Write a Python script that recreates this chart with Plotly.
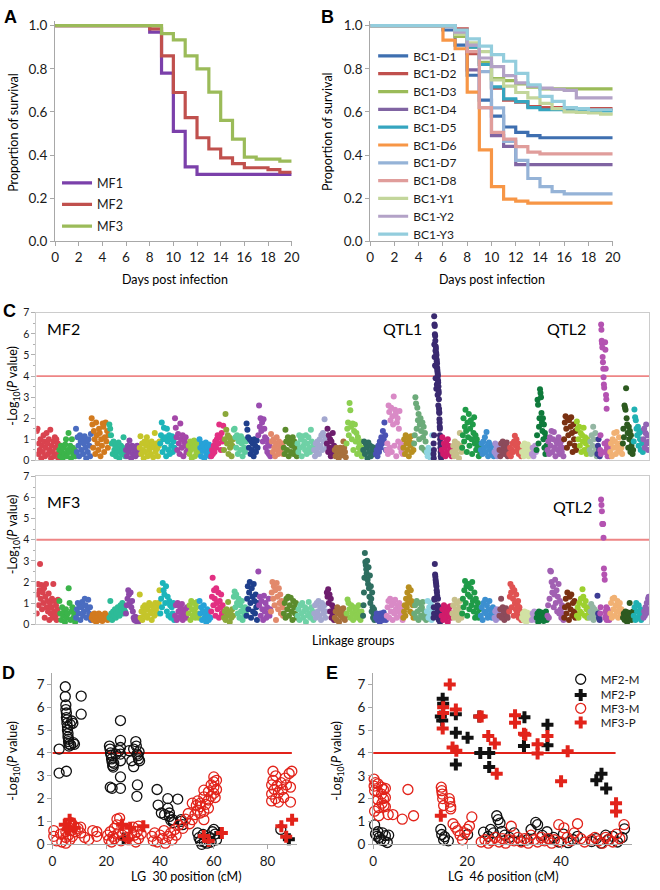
import plotly.graph_objects as go

W, H = 660, 890
FONT = "Lato, 'Open Sans', sans-serif"
TXT = "#1a1a1a"
AX = "#a8a8a8"

# ---------------- Panel A: survival of three mapping families ----------------
days = list(range(0, 21))
mf1_survival = [1, 1, 1, 1, 1, 1, 1, 1, 0.97, 0.78, 0.51, 0.345, 0.31, 0.31, 0.31, 0.31, 0.31, 0.31, 0.31, 0.31, 0.31]
mf2_survival = [1, 1, 1, 1, 1, 1, 1, 1, 0.985, 0.86, 0.69, 0.573, 0.48, 0.428, 0.387, 0.36, 0.341, 0.341, 0.332, 0.32, 0.32]
mf3_survival = [1, 1, 1, 1, 1, 1, 1, 1, 1, 0.963, 0.934, 0.86, 0.80, 0.692, 0.561, 0.474, 0.39, 0.381, 0.381, 0.372, 0.372]
families_a = ["MF1", "MF2", "MF3"]

# ---------------- Panel B: survival of backcross families ----------------
bc1_d1 = [1, 1, 1, 1, 1, 1, 0.98, 0.91, 0.77, 0.655, 0.58, 0.53, 0.505, 0.49, 0.48, 0.48, 0.48, 0.48, 0.48, 0.48, 0.48]
bc1_d2 = [1, 1, 1, 1, 1, 1, 1, 0.985, 0.87, 0.82, 0.71, 0.655, 0.645, 0.625, 0.62, 0.62, 0.615, 0.615, 0.615, 0.615, 0.615]
bc1_d3 = [1, 1, 1, 1, 1, 1, 1, 0.95, 0.90, 0.83, 0.755, 0.745, 0.73, 0.715, 0.707, 0.707, 0.707, 0.707, 0.707, 0.707, 0.707]
bc1_d4 = [1, 1, 1, 1, 1, 1, 1, 0.96, 0.795, 0.62, 0.49, 0.44, 0.355, 0.355, 0.355, 0.355, 0.355, 0.355, 0.355, 0.355, 0.355]
bc1_d5 = [1, 1, 1, 1, 1, 1, 1, 0.97, 0.90, 0.82, 0.716, 0.66, 0.648, 0.62, 0.61, 0.61, 0.605, 0.605, 0.605, 0.605, 0.605]
bc1_d6 = [1, 1, 1, 1, 1, 1, 0.933, 0.893, 0.692, 0.424, 0.253, 0.195, 0.186, 0.177, 0.177, 0.177, 0.177, 0.177, 0.177, 0.177, 0.177]
bc1_d7 = [1, 1, 1, 1, 1, 1, 1, 0.97, 0.91, 0.787, 0.619, 0.463, 0.375, 0.291, 0.253, 0.23, 0.22, 0.22, 0.22, 0.22, 0.22]
bc1_d8 = [1, 1, 1, 1, 1, 1, 1, 0.97, 0.88, 0.62, 0.505, 0.474, 0.439, 0.413, 0.405, 0.405, 0.405, 0.405, 0.405, 0.405, 0.405]
bc1_y1 = [1, 1, 1, 1, 1, 1, 1, 0.96, 0.92, 0.88, 0.748, 0.72, 0.69, 0.665, 0.64, 0.615, 0.60, 0.598, 0.595, 0.59, 0.585]
bc1_y2 = [1, 1, 1, 1, 1, 1, 1, 0.97, 0.91, 0.85, 0.81, 0.768, 0.735, 0.72, 0.71, 0.705, 0.70, 0.665, 0.665, 0.665, 0.665]
bc1_y3 = [1, 1, 1, 1, 1, 1, 1, 0.98, 0.939, 0.905, 0.866, 0.835, 0.779, 0.726, 0.672, 0.649, 0.62, 0.615, 0.61, 0.61, 0.61]
families_b = ["BC1-D1", "BC1-D2", "BC1-D3", "BC1-D4", "BC1-D5", "BC1-D6", "BC1-D7", "BC1-D8", "BC1-Y1", "BC1-Y2", "BC1-Y3"]

# ---------------- Panel C: genome scans (linkage group lengths, -log10 P per marker) ----------------
lg_lengths = [23, 17, 16, 18, 17, 14, 21, 15, 14, 11, 12, 13, 10, 13, 12, 13, 13, 14, 17, 13,
              8, 12, 17, 13, 11, 17, 11, 13, 7, 8, 11, 10, 19, 14, 5, 10, 13, 10, 5, 11,
              17, 13, 13, 8, 3, 10, 13, 11, 10, 6]

mf2_lg01 = [1.4, 1.5, 0.3, 0.8, 0.5, 1.0, 0.1, 0.7, 0.4, 1.2, 0.9, 0.2, 0.6, 1.3, 0.8, 0.3, 1.0, 0.5, 1.45, 0.1, 0.7, 0.4, 0.9, 0.2, 1.1, 0.6, 1.0, 0.3, 0.8, 0.05]
mf2_lg02 = [0.5, 0.2, 0.7, 0.4, 0.1, 0.6, 0.3, 0.75, 1.0, 0.2, 0.5, 1.3, 0.4, 0.7, 0.1, 1.0, 0.6, 0.3, 0.5, 0.2]
mf2_lg03 = [1.5, 0.4, 1.1, 0.7, 0.2, 1.2, 0.9, 0.5, 1.0, 0.3, 0.8, 1.15, 0.6, 0.1, 0.9, 0.4, 1.0, 0.7, 0.2, 1.25]
mf2_lg04 = [2.0, 1.7, 0.6, 1.4, 1.0, 0.3, 1.8, 1.2, 0.8, 0.5, 1.5, 1.3, 0.2, 1.0, 0.7, 1.75, 1.6, 0.4, 1.1, 1.8, 0.9, 1.4, 0.6, 1.2]
mf2_lg05 = [1.7, 1.5, 1.2, 0.8, 0.3, 0.9, 0.5, 0.7, 0.2, 0.6, 0.4, 0.85, 0.1, 0.5, 0.7, 0.3, 0.6, 1.1, 0.4, 0.2]
mf2_lg06 = [0.5, 0.2, 0.7, 0.4, 0.95, 0.6, 0.1, 0.7, 0.3, 0.5, 0.65, 0.2, 0.45, 0.7, 0.3, 0.55]
mf2_lg07 = [0.6, 1.15, 0.3, 0.8, 0.5, 0.1, 0.9, 0.4, 0.7, 1.1, 0.2, 0.85, 0.5, 0.6, 0.3, 0.9, 0.75, 0.15, 0.6, 1.3, 0.4, 0.8, 0.55, 0.2, 0.7, 0.9]
mf2_lg08 = [0.8, 1.2, 1.8, 0.4, 1.0, 1.55, 0.6, 1.1, 0.2, 1.5, 0.9, 0.5, 1.2, 0.3, 1.0, 0.7, 1.15, 0.4, 0.9, 0.6]
mf2_lg09 = [2.0, 1.55, 1.1, 0.5, 1.25, 0.8, 0.3, 1.75, 1.0, 0.6, 1.2, 0.2, 0.9, 0.7, 1.1, 0.4, 0.8, 0.5]
mf2_lg10 = [0.7, 0.3, 0.9, 0.5, 0.1, 0.8, 0.6, 0.95, 0.2, 0.7, 0.4, 0.85, 0.5, 0.3]
mf2_lg11 = [1.0, 0.6, 0.2, 0.8, 0.45, 0.7, 0.1, 0.55, 0.85, 0.3, 0.65, 0.4, 0.75, 0.2, 0.5]
mf2_lg12 = [0.2, 0.5, 0.3, 0.7, 0.4, 0.9, 0.6, 1.0, 1.2, 0.8, 1.7, 1.1, 0.5, 1.3, 0.9, 1.65]
mf2_lg13 = [0.5, 1.0, 2.2, 1.45, 0.8, 1.2, 0.3, 1.1, 0.6, 0.9, 0.2, 0.7, 1.0]
mf2_lg14 = [1.45, 1.5, 1.1, 0.6, 1.2, 0.3, 0.9, 1.0, 0.5, 1.15, 0.8, 0.2, 1.0, 0.6, 0.4, 0.9]
mf2_lg15 = [1.75, 1.45, 1.1, 0.6, 1.0, 0.3, 0.9, 0.5, 0.8, 0.2, 1.0, 0.7, 0.4, 0.95, 0.6]
mf2_lg16 = [1.2, 2.6, 1.6, 2.0, 1.4, 1.8, 0.9, 1.95, 1.5, 1.1, 0.6, 1.0, 0.4, 0.8, 0.3, 0.7, 0.2]
mf2_lg17 = [1.25, 0.9, 0.4, 1.0, 0.6, 0.2, 0.8, 1.1, 0.5, 0.3, 0.9, 0.7, 0.4, 0.6, 0.8, 0.3]
mf2_lg18 = [0.6, 0.3, 1.45, 0.9, 0.5, 1.1, 0.2, 0.8, 1.0, 0.4, 0.7, 1.1, 0.3, 0.9, 0.6, 0.5, 0.2]
mf2_lg19 = [0.8, 0.4, 1.2, 0.6, 1.0, 0.2, 1.15, 0.7, 0.9, 0.5, 1.2, 0.3, 0.8, 1.1, 0.6, 0.4, 1.45, 0.9, 0.5, 0.7]
mf2_lg20 = [0.5, 0.2, 0.8, 0.4, 0.9, 0.6, 0.3, 1.0, 0.7, 1.2, 0.5, 1.3, 0.9, 1.95, 1.1, 0.6]
mf2_lg21 = [0.8, 1.5, 0.4, 1.2, 0.6, 1.0, 0.2, 0.9, 0.5, 1.3, 0.3, 0.7]
mf2_lg22 = [0.5, 0.2, 0.6, 0.35, 0.55, 0.1, 0.45, 0.6, 0.3, 0.5, 0.25, 0.9, 0.6, 0.4, 0.15]
mf2_lg23 = [0.8, 1.5, 1.8, 1.2, 2.72, 2.38, 1.6, 1.0, 1.75, 0.5, 1.4, 1.7, 0.9, 1.3, 0.3, 1.1, 0.6, 0.8, 0.4, 0.9, 0.2, 0.6]
mf2_lg24 = [0.5, 0.9, 0.3, 0.8, 0.6, 0.1, 0.85, 0.4, 0.7, 0.2, 0.65, 0.5, 0.3, 0.6, 0.4]
mf2_lg25 = [0.3, 0.5, 0.2, 0.7, 0.4, 0.9, 0.6, 1.1, 0.8, 1.4, 1.0, 1.8, 1.2, 0.5]
mf2_lg26 = [0.5, 0.8, 0.3, 2.6, 2.3, 0.6, 1.9, 2.5, 0.4, 2.1, 1.7, 3.03, 0.7, 2.4, 2.2, 0.2, 1.8, 2.0, 0.9, 1.5, 2.35, 0.6, 0.8, 0.4, 0.7, 0.3]
mf2_lg27 = [0.6, 1.0, 0.3, 1.2, 0.8, 0.5, 1.1, 0.2, 0.9, 0.7, 1.15, 0.4, 0.8, 0.5]
mf2_lg28 = [0.8, 1.2, 3.0, 2.7, 1.5, 2.5, 1.9, 2.2, 1.0, 1.7, 2.0, 1.4, 0.6, 1.8, 1.1, 1.6, 0.5, 1.3, 0.9, 0.4]
mf2_lg29 = [0.4, 0.2, 0.6, 0.3, 0.5, 0.1, 0.45, 1.2, 0.3]
mf2_lg30 = [0.3, 0.8, 0.1, 0.5, 1.2, 6.84, 5.5, 6.45, 4.9, 6.37, 5.98, 4.5, 5.9, 5.67, 5.2, 3.9, 5.4, 5.3, 4.45, 5.1,
            3.4, 5.0, 4.8, 4.7, 3.6, 4.6, 4.4, 4.3, 4.2, 3.1, 4.1, 4.0, 3.8, 3.7, 2.6, 3.5, 3.3, 3.2, 2.9, 2.45,
            2.3, 2.25, 1.95, 1.8, 1.6, 1.5, 1.2, 1.0, 0.8, 0.6, 0.4, 0.2, 0.7, 0.3, 0.1]
mf2_lg31 = [0.5, 1.1, 0.3, 0.8, 0.6, 0.2, 0.9, 0.4, 1.0, 0.7, 0.3, 0.6, 0.5, 0.2]
mf2_lg32 = [0.4, 0.7, 0.2, 0.9, 0.5, 0.3, 0.8, 0.6, 0.1, 1.3, 0.7, 0.4]
mf2_lg33 = [0.6, 1.2, 2.0, 0.9, 1.6, 2.4, 1.4, 0.4, 1.8, 1.1, 2.2, 0.7, 1.5, 1.9, 1.0, 0.3, 1.7, 1.3, 2.05, 0.8, 1.2, 0.5, 1.0, 0.6, 0.8, 0.2, 0.7, 0.4]
mf2_lg34 = [0.5, 0.8, 0.3, 0.9, 0.6, 1.1, 0.4, 1.35, 0.7, 0.2, 0.85, 0.5, 0.6, 0.3, 0.7, 0.4, 0.2]
mf2_lg35 = [0.4, 0.8, 0.3, 0.6, 0.2, 0.7, 0.5]
mf2_lg36 = [0.5, 0.2, 0.8, 0.4, 0.9, 0.6, 0.3, 0.7, 0.5, 0.85, 0.2, 0.6]
mf2_lg37 = [0.3, 0.6, 0.2, 0.5, 0.8, 0.4, 0.9, 1.17, 0.7, 1.0, 0.5, 0.8, 0.3, 0.6, 0.4, 0.2]
mf2_lg38 = [0.4, 0.7, 0.2, 0.8, 0.5, 0.3, 0.6, 0.75, 0.2, 0.5, 0.4, 0.6]
mf2_lg39 = [0.3, 0.6, 0.2, 0.5, 0.7, 0.4]
mf2_lg40 = [0.5, 1.2, 2.88, 2.64, 0.8, 1.6, 2.0, 3.38, 3.2, 3.0, 2.25, 1.8, 1.4, 2.0, 1.0, 1.7, 0.6, 1.3, 0.3, 1.1, 0.7, 0.4]
mf2_lg41 = [0.5, 0.9, 0.3, 1.1, 0.7, 1.4, 0.4, 1.0, 1.35, 0.6, 0.2, 0.9, 0.8, 0.5, 1.1, 0.3, 0.7, 0.9, 0.4, 0.6, 0.2]
mf2_lg42 = [1.0, 1.8, 2.1, 1.5, 0.6, 2.0, 1.2, 1.9, 0.8, 1.6, 2.05, 1.3, 0.4, 1.7, 1.0, 0.7, 1.4, 0.5]
mf2_lg43 = [1.85, 1.5, 1.0, 1.6, 0.7, 1.3, 0.4, 1.2, 0.9, 1.55, 0.5, 1.1, 0.8, 0.3, 1.0, 0.6, 0.4]
mf2_lg44 = [0.5, 0.9, 0.3, 1.2, 0.7, 1.6, 1.0, 0.4, 1.3, 0.6, 0.2]
mf2_lg45 = [0.3, 0.7, 1.0, 0.5, 0.2]
mf2_lg46 = [0.5, 1.2, 0.3, 6.45, 6.2, 5.68, 5.55, 5.35, 4.9, 4.65, 4.35, 3.95, 3.6, 3.45, 0.8, 0.4,
            5.6, 5.25, 4.35, 3.1, 2.9, 2.45, 0.6, 0.9, 0.2, 0.7, 0.5, 0.3, 0.8, 0.6, 0.4, 0.2]
mf2_lg47 = [0.4, 0.8, 0.2, 1.0, 0.6, 1.3, 0.9, 0.3, 1.35, 0.7, 0.5, 1.1, 0.8, 0.4, 0.6, 0.3]
mf2_lg48 = [0.8, 1.5, 1.1, 2.6, 2.5, 2.4, 3.42, 2.0, 1.7, 1.3, 0.6, 1.6, 1.0, 1.4, 0.4, 1.2, 0.7, 0.9, 0.3, 0.5]
mf2_lg49 = [0.9, 2.41, 2.05, 1.9, 1.5, 1.2, 1.6, 0.7, 1.3, 1.0, 0.5, 1.4, 0.8, 0.4]
mf2_lg50 = [1.0, 1.5, 0.6, 1.3, 1.7, 0.8, 1.2, 0.5, 0.9]

mf3_lg01 = [0.5, 1.4, 1.9, 0.9, 1.6, 2.85, 1.2, 1.85, 0.7, 1.5, 1.0, 1.7, 0.3, 1.3, 1.9, 0.8, 1.1, 0.6, 1.45, 0.2, 1.0, 0.5, 0.8, 1.2, 0.3, 1.9, 0.6, 1.1, 0.4, 0.9, 0.2, 0.7, 1.15, 0.5]
mf3_lg02 = [1.1, 0.5, 0.2, 0.8, 0.4, 0.6, 0.1, 0.7, 0.3, 0.5, 1.7, 1.0, 0.2, 0.6, 0.8, 0.3, 0.5, 0.1]
mf3_lg03 = [0.3, 0.7, 1.0, 0.5, 0.9, 0.2, 0.8, 1.05, 0.4, 0.6, 1.2, 0.9, 0.3, 0.7, 1.15, 0.5, 0.8, 0.2]
mf3_lg04 = [0.3, 0.45, 0.2, 0.5, 0.35, 0.1, 0.4, 0.3, 0.5, 0.2, 0.45, 0.35, 0.15, 0.4, 0.3, 0.5, 0.25, 0.4, 0.2, 0.35]
mf3_lg05 = [0.3, 1.1, 0.5, 0.2, 0.6, 0.4, 0.7, 0.3, 0.5, 0.8, 0.6, 0.4, 0.9, 0.7, 1.0, 0.5, 0.8, 0.6]
mf3_lg06 = [0.5, 0.9, 1.2, 1.6, 1.4, 1.0, 1.5, 0.8, 1.1, 0.6, 0.3, 0.2, 0.35, 0.15, 0.3, 0.25, 0.1, 0.2]
mf3_lg07 = [1.4, 0.3, 0.6, 0.2, 0.8, 0.5, 0.9, 0.4, 0.7, 0.3, 0.85, 1.0, 0.5, 0.6, 0.2, 0.9, 0.7, 0.4, 1.0, 0.6, 0.8, 0.5, 1.0, 1.6]
mf3_lg08 = [0.5, 1.2, 0.8, 1.95, 1.6, 1.4, 1.0, 1.8, 0.6, 1.3, 0.4, 1.1, 0.9, 0.3, 0.8, 0.5, 1.0, 0.2]
mf3_lg09 = [0.4, 0.9, 0.2, 1.0, 0.6, 0.3, 0.8, 0.5, 0.95, 0.2, 0.7, 0.4, 0.6, 0.3, 0.8, 0.5]
mf3_lg10 = [0.5, 0.9, 0.2, 1.1, 0.7, 0.4, 1.0, 0.6, 0.3, 0.8, 1.05, 0.5, 0.3]
mf3_lg11 = [1.1, 0.5, 0.8, 0.2, 0.6, 0.9, 0.3, 0.5, 0.1, 0.7, 0.4, 0.2, 0.6, 0.3]
mf3_lg12 = [0.6, 1.3, 2.2, 0.9, 1.6, 1.2, 0.4, 1.7, 1.0, 0.7, 1.5, 0.3, 1.1, 0.8, 1.4, 0.5, 0.9, 0.6]
mf3_lg13 = [0.3, 0.6, 0.2, 0.7, 0.4, 1.05, 0.5, 0.1, 0.6, 0.3, 0.7, 0.4]
mf3_lg14 = [1.3, 1.55, 0.8, 1.4, 1.0, 0.5, 1.2, 0.3, 0.9, 0.6, 1.1, 0.2, 0.7, 0.4, 0.8, 0.5]
mf3_lg15 = [0.4, 1.2, 1.8, 0.7, 1.5, 2.0, 1.0, 0.3, 1.7, 1.3, 0.6, 1.9, 1.1, 0.5, 1.4, 0.8, 0.2, 1.0]
mf3_lg16 = [2.5, 0.9, 1.3, 0.4, 1.1, 0.7, 0.2, 1.35, 0.6, 1.0, 0.3, 0.8, 0.5, 1.2, 0.4, 0.7]
mf3_lg17 = [0.6, 1.5, 2.0, 1.2, 1.8, 0.9, 1.6, 0.2, 1.95, 1.3, 0.7, 1.7, 1.0, 1.4, 0.5, 1.1, 0.8, 0.4]
mf3_lg18 = [0.5, 1.0, 0.3, 1.2, 0.7, 1.3, 0.4, 0.9, 1.25, 0.6, 0.2, 1.1, 0.8, 0.5, 1.0, 0.3]
mf3_lg19 = [0.4, 0.7, 0.2, 0.9, 0.5, 1.0, 0.3, 0.6, 0.8, 0.1, 0.7, 0.4, 1.05, 0.5, 0.3, 0.8, 0.6, 0.2]
mf3_lg20 = [0.5, 0.9, 0.3, 1.0, 0.6, 1.1, 0.4, 0.8, 0.2, 1.0, 0.7, 0.5, 0.9, 0.3, 0.6]
mf3_lg21 = [1.5, 1.3, 1.65, 1.0, 1.4, 0.6, 1.2, 0.3, 0.9, 0.5, 0.7, 0.2]
mf3_lg22 = [0.3, 0.6, 0.2, 0.8, 0.5, 0.1, 0.7, 0.4, 0.6, 0.3, 0.75, 0.5, 0.2, 0.4]
mf3_lg23 = [0.5, 1.17, 1.0, 0.7, 0.3, 0.9, 0.5, 0.2, 0.8, 0.6, 0.4, 0.7, 0.3, 0.9, 0.5, 0.2, 0.6, 0.4]
mf3_lg24 = [0.4, 0.9, 1.5, 2.2, 3.37, 2.95, 2.8, 2.6, 2.4, 3.0, 2.1, 1.9, 2.7, 1.7, 1.3, 2.3, 1.0, 1.8, 1.2, 0.6, 1.5, 0.8, 0.3, 0.5, 0.7, 0.2, 0.4, 0.3]
mf3_lg25 = [0.3, 0.5, 0.2, 0.45, 0.35, 0.1, 0.5, 0.3, 0.4, 0.2, 0.55, 0.3, 0.4, 0.2]
mf3_lg26 = [0.4, 0.8, 1.1, 0.3, 1.2, 0.6, 0.9, 0.2, 1.0, 0.5, 1.15, 0.7, 0.3, 0.9, 0.6, 1.0, 0.4, 0.8, 0.5, 0.2]
mf3_lg27 = [0.3, 0.6, 0.9, 0.4, 1.2, 0.8, 1.5, 1.0, 1.75, 1.3, 0.6, 1.6, 1.1, 0.5, 0.9, 0.3]
mf3_lg28 = [0.5, 0.9, 0.3, 1.1, 0.6, 0.2, 1.0, 0.7, 0.4, 0.8, 1.05, 0.3, 0.6, 0.5, 0.2]
mf3_lg29 = [0.6, 1.1, 0.3, 0.8, 0.5, 1.0, 0.2, 0.7, 0.4]
mf3_lg30 = [0.3, 0.8, 0.5, 1.2, 1.15, 2.85, 2.35, 2.25, 2.1, 2.0, 1.9, 1.8, 1.6, 1.5, 1.35, 0.9, 0.6, 1.2, 0.4, 0.7,
            0.2, 0.5, 0.8, 0.3, 0.6, 0.1, 0.4, 0.7, 0.3, 0.5]
mf3_lg31 = [0.4, 0.7, 0.2, 0.9, 0.5, 0.3, 0.8, 0.6, 0.1, 0.7, 0.4, 0.85, 0.3, 0.5]
mf3_lg32 = [0.5, 0.9, 0.3, 1.15, 0.7, 0.4, 1.0, 0.6, 0.2, 0.8, 1.1, 0.5, 0.3]
mf3_lg33 = [0.5, 1.2, 0.8, 1.6, 2.05, 1.0, 1.8, 0.4, 1.4, 1.9, 0.7, 1.3, 1.7, 0.9, 2.0, 1.1, 0.6, 1.5, 0.3, 1.2, 0.8, 0.5, 1.0, 0.3, 0.7, 0.4]
mf3_lg34 = [0.4, 0.8, 0.2, 1.0, 0.6, 1.15, 0.5, 0.9, 0.3, 0.7, 1.1, 0.4, 0.6, 0.3, 0.8, 0.5]
mf3_lg35 = [0.3, 0.6, 0.2, 0.7, 0.4, 0.5, 0.3]
mf3_lg36 = [0.4, 0.7, 1.2, 0.3, 0.8, 0.5, 0.2, 0.6, 0.75, 0.4, 0.3, 0.6]
mf3_lg37 = [0.6, 1.3, 1.9, 1.5, 0.8, 1.75, 1.2, 0.4, 1.6, 1.0, 0.7, 1.4, 0.5, 0.9, 1.1, 0.3, 0.8, 0.5, 0.6, 0.2]
mf3_lg38 = [0.3, 0.5, 0.2, 0.6, 0.4, 0.1, 0.55, 0.3, 0.45, 0.2, 0.5, 0.3]
mf3_lg39 = [0.2, 0.5, 0.3, 0.6, 0.4, 0.2]
mf3_lg40 = [0.3, 0.5, 0.1, 0.6, 0.4, 0.2, 0.55, 0.3, 0.5, 0.15, 0.45, 0.3, 0.6, 0.2]
mf3_lg41 = [0.4, 0.9, 0.3, 1.2, 2.53, 2.5, 2.0, 1.5, 1.8, 0.8, 1.4, 2.1, 1.0, 1.6, 0.6, 1.3, 1.9, 0.5, 1.1, 0.7, 0.3, 0.9, 0.5, 0.2]
mf3_lg42 = [0.3, 0.8, 1.2, 0.5, 1.5, 0.9, 0.2, 1.3, 0.7, 1.4, 0.4, 1.0, 0.6, 1.1, 0.3, 0.5]
mf3_lg43 = [0.4, 0.8, 0.3, 1.0, 0.6, 1.2, 0.5, 1.65, 1.3, 0.9, 0.4, 1.1, 0.7, 0.3, 0.8, 0.5]
mf3_lg44 = [0.3, 0.6, 0.95, 0.4, 0.8, 0.2, 0.7, 0.5, 0.3, 0.6]
mf3_lg45 = [1.35, 0.5, 0.3, 0.2]
mf3_lg46 = [0.5, 0.8, 5.91, 5.65, 5.35, 4.75, 4.75, 4.75, 4.09, 2.64, 2.35, 2.1, 0.3, 0.6, 0.4, 0.8, 0.2, 0.5, 0.7, 0.3, 0.6, 0.4, 0.2, 0.5]
mf3_lg47 = [0.5, 1.0, 0.3, 1.2, 0.7, 1.25, 0.4, 0.9, 0.6, 1.1, 0.3, 0.8, 1.0, 0.5, 0.7, 0.4]
mf3_lg48 = [0.3, 0.5, 0.2, 0.6, 0.4, 0.1, 0.55, 0.3, 1.0, 0.5, 0.2, 0.4, 0.6]
mf3_lg49 = [0.4, 0.8, 0.2, 1.0, 0.6, 0.3, 0.9, 0.5, 0.7, 0.2, 0.6, 0.4]
mf3_lg50 = [0.3, 0.6, 0.4, 0.8, 0.5, 1.0, 0.7, 1.2, 1.3]

lg_colors = ["#d9434f", "#3bb44a", "#4a6cc0", "#d27a1e", "#2dbb98", "#8c48a8", "#c5c52a", "#1db5ba", "#a447a8", "#9ccb3c",
             "#27a2d8", "#e22f82", "#8ba83b", "#5fcd9e", "#1f3f8c", "#9a4db0", "#e2896b", "#5b8b2c", "#6fd1a6", "#a3a7cf",
             "#6d1d6d", "#a8703c", "#8ccf50", "#2e6e60", "#4a52b4", "#d98ac6", "#b88f20", "#6cab7a", "#8fd5e2", "#3a2a70",
             "#d01c6b", "#c8c08b", "#1f9b48", "#3c8fd0", "#a190d2", "#8b4b5b", "#e05252", "#d2e2a4", "#b493d2", "#0f7a3b",
             "#a160b2", "#7a3112", "#9dd02e", "#93b6a3", "#3d3c94", "#b453b1", "#f1b173", "#2d5a20", "#20b1b3", "#9163b4"]

# ---------------- Panel D: LG30 fine scan ----------------
d_mf2m_x = [2.5, 2.5, 5.2, 4.8, 4.8, 5.0, 5.0, 5.2, 5.2, 5.4, 5.4, 5.6, 5.6, 5.8, 5.8, 6.0, 6.0, 6.2, 6.2, 7.2, 7.6, 7.8, 8.2, 10.7, 10.7, 6.6, 6.8,
            21.2, 21.4, 21.6, 21.8, 22.0, 22.2, 22.4, 22.6, 22.8, 21.5, 22.2, 23.6, 25.3, 25.3, 25.3, 25.3, 25.3, 25.3, 25.3, 24.8,
            28.5, 29.5, 30.2, 30.2, 31.0, 31.2, 31.5, 31.8, 32.0, 32.2, 32.4, 31.6, 31.4,
            38.9, 39.3, 40.5, 41.7, 42.9, 42.9, 43.5, 43.5, 44.7, 46.6, 47.8, 47.8, 48.4, 45.0, 44.0,
            54.0, 54.5, 55.0, 55.5, 56.0, 56.5, 57.5, 58.5, 59.5, 60.0, 60.5, 61.0, 59.0, 84.9]
d_mf2m_y = [4.17, 3.12, 3.2, 6.9, 6.47, 6.1, 5.9, 5.75, 5.55, 5.45, 5.3, 5.15, 5.0, 4.85, 4.7, 4.6, 4.5, 4.4, 4.3, 5.4, 5.3, 4.45, 4.38, 6.49, 5.7, 5.25, 4.35,
            4.3, 4.17, 4.0, 3.9, 3.74, 3.6, 3.45, 3.38, 3.55, 2.5, 2.45, 3.95, 5.42, 4.55, 4.24, 3.95, 3.66, 2.95, 2.45, 4.1,
            4.1, 3.66, 4.17, 3.4, 4.5, 4.3, 3.95, 3.88, 3.74, 4.05, 3.66, 2.6, 2.1,
            2.4, 1.72, 1.37, 1.3, 1.58, 2.0, 1.37, 1.22, 1.08, 1.98, 1.08, 1.0, 0.86, 0.95, 1.05,
            0.5, 0.29, 0.14, 0.0, 0.43, 0.1, 0.05, 0.3, 0.55, 0.65, 0.45, 0.2, 0.1, 0.65]
d_mf2p_x = [26.5, 62.4, 87.9]
d_mf2p_y = [0.25, 0.5, 0.22]
d_mf3m_x = [0.5, 0.5, 1.5, 3, 3.5, 5, 5, 5, 6, 6, 6.5, 7, 7, 7.5, 8, 8.5, 9.5, 10.5, 10.5, 12, 13.5, 15, 16.5, 16.5,
            20.5, 21, 21.5, 22, 22.5, 23, 23, 24, 24, 24.5, 25, 25.5, 26, 27, 28, 30, 30.5, 31, 31.5, 32, 32, 33,
            37, 37.5, 38, 39, 40, 41, 41.5, 42, 43, 44, 44.5, 45.5, 46,
            47, 48.5, 49.5, 50.5, 51,
            52, 52, 53, 53.5, 54, 54, 55, 55, 55, 56.3, 56.3, 56.3, 56.3, 57, 58, 58, 58, 59, 59, 60, 60, 60, 60, 60.5, 61, 61,
            81.5, 81.5, 81.5, 82, 82, 82.5, 83, 83, 83.5, 84, 84, 85, 85.5, 86, 86.5, 87, 88, 88.5, 88.5, 89]
d_mf3m_y = [0.6, 0.35, 0.15, 0.45, 0.1, 0.55, 0.3, 0.05, 0.75, 0.4, 0.2, 0.95, 0.6, 0.35, 0.8, 0.55, 0.7, 0.75, 0.5, 0.3, 0.2, 0.6, 0.55, 0.35,
            0.4, 0.2, 0.55, 0.1, 0.35, 0.7, 0.25, 1.1, 0.85, 0.5, 1.15, 0.15, 0.4, 0.6, 0.3, 0.75, 0.4, 0.1, 0.55, 0.8, 0.25, 0.45,
            0.35, 0.15, 0.5, 0.1, 0.4, 0.25, 0.6, 0.05, 0.35, 0.5, 0.2, 0.65, 0.4,
            0.85, 0.7, 1.1, 1.35, 0.9,
            1.8, 1.08, 1.3, 1.7, 1.9, 1.5, 1.8, 1.65, 1.37, 2.37, 2.08, 1.44, 1.08, 1.75, 2.3, 1.94, 1.58, 2.1, 2.6, 2.95, 2.73, 2.5, 2.23, 2.05, 2.8, 2.4,
            2.6, 2.2, 1.9, 3.2, 2.8, 2.4, 2.0, 3.0, 2.55, 1.85, 2.25, 2.7, 2.4, 2.05, 2.9, 2.6, 3.1, 1.85, 2.5, 3.2]
d_mf3p_x = [6.4, 4.6, 5.8, 8.3, 25.9, 28.9, 28.3, 33.8, 56.3, 58.1, 63.0, 85.1, 89.1, 86.9]
d_mf3p_y = [1.08, 0.86, 0.65, 0.72, 0.86, 0.72, 0.22, 0.79, 0.36, 0.14, 0.5, 0.79, 1.08, 0.33]

# ---------------- Panel E: LG46 fine scan ----------------
e_mf2m_x = [0.3, 0.5, 0.8, 1.0, 1.3, 1.6, 2.0, 2.3, 2.6, 3.0, 3.3, 14.4, 14.6, 15.0, 15.2, 16.0, 20.1,
            23.5, 24.5, 25.0, 25.6, 26.3, 26.6, 27.0, 27.4, 28.0, 29.0, 30.0,
            31.5, 32.8, 33.6, 34.6, 35.0, 36.0, 37.0, 37.5, 38.4, 39.5, 40.5, 41.5, 42.6, 43.5,
            46.5, 47.5, 48.5, 49.5, 50.0, 51.0, 52.0, 53.0, 53.5]
e_mf2m_y = [0.85, 0.45, 0.35, 0.55, 0.3, 0.2, 0.5, 0.15, 0.38, 0.08, 0.4, 0.65, 0.43, 0.2, 0.33, 0.15, 0.43,
            0.53, 0.35, 0.65, 0.5, 1.25, 1.08, 0.93, 0.57, 0.4, 0.3, 0.5,
            0.15, 0.2, 0.65, 0.96, 0.86, 0.39, 0.55, 0.22, 0.3, 0.1, 0.45, 0.07, 0.2, 0.35,
            0.12, 0.25, 0.05, 0.4, 0.2, 0.35, 0.1, 0.3, 0.68]
e_mf2p_x = [14.8, 14.9, 14.4, 14.7, 17.6, 17.6, 17.6, 20.1, 22.6, 22.8, 24.7, 24.7, 32.2, 32.1, 37.1, 37.1, 47.5, 48.6, 49.6]
e_mf2p_y = [6.37, 6.16, 5.6, 5.42, 5.7, 4.89, 3.5, 4.67, 5.6, 4.0, 4.0, 3.38, 5.56, 4.31, 5.24, 4.34, 2.8, 3.09, 2.44]
e_mf3m_x = [0.2, 0.2, 0.3, 0.3, 0.5, 1.0, 1.0, 1.0, 1.2, 1.2, 1.8, 1.8, 1.9, 2.2, 2.2, 2.3, 2.6, 2.6, 2.6, 3.2,
            4.2, 6.2, 7.4, 8.6, 14.5, 14.6, 14.7, 14.8, 15.0, 16.2, 16.3, 16.5, 16.5,
            17.0, 17.5, 18.0, 18.5, 19.0, 19.5, 20.0, 20.5, 21.0,
            23.0, 23.8, 24.5, 25.2, 26.0, 26.8, 27.5, 28.2, 29.0, 29.4, 30.0, 30.8, 31.5, 32.2, 33.0, 33.6, 34.3, 35.0, 35.8, 36.5,
            37.2, 38.0, 38.6, 39.5, 40.0, 40.6, 41.3, 42.0, 42.8, 43.5, 44.2, 45.0, 46.5, 47.2, 48.0, 48.8, 49.5, 50.2, 51.0, 51.8,
            52.5, 53.4]
e_mf3m_y = [2.85, 2.55, 2.35, 1.45, 2.7, 2.65, 2.3, 1.95, 1.6, 1.25, 2.5, 2.2, 1.8, 2.4, 2.0, 1.7, 2.45, 2.05, 1.65, 1.3,
            1.3, 1.1, 2.4, 1.25, 2.5, 2.35, 2.2, 2.0, 1.7, 2.0, 1.85, 1.65, 1.55,
            0.9, 0.75, 0.6, 0.4, 0.2, 0.5, 0.65, 0.8, 1.2,
            0.1, 0.2, 0.05, 0.15, 0.3, 0.1, 0.25, 0.05, 0.2, 0.79, 0.15, 0.3, 0.1, 0.25, 0.05, 0.4, 0.2, 0.1, 0.3, 0.15,
            0.25, 0.05, 0.2, 0.86, 0.1, 0.72, 0.3, 0.15, 0.5, 0.9, 0.25, 0.1, 0.2, 0.3, 0.15, 0.05, 0.3, 0.2, 0.1, 0.45,
            0.25, 0.86]
e_mf3p_x = [16.3, 14.9, 14.9, 14.8, 14.4, 17.6, 16.9, 17.7, 22.6, 23.1, 24.5, 25.9, 26.3, 30.2, 30.2, 32.1, 32.4,
            35.0, 35.0, 37.1, 40.0, 41.4, 51.7, 51.7]
e_mf3p_y = [7.0, 6.0, 5.75, 5.07, 1.25, 5.9, 4.24, 4.1, 5.6, 5.6, 4.74, 4.41, 3.09, 5.65, 5.32, 4.84, 4.8,
            4.38, 3.98, 4.74, 2.76, 4.07, 1.8, 1.44]

threshold = 4
d_threshold_end = 89
e_threshold_end = 51.6


# =====================================================================
def fx(p):
    return p / W


def fy(p):
    return 1 - p / H


fig = go.Figure()
legends = {}
leg_counter = [0]


def new_legend(x_px, y_px, size):
    leg_counter[0] += 1
    key = "legend" if leg_counter[0] == 1 else "legend%d" % leg_counter[0]
    legends[key] = dict(x=fx(x_px), y=fy(y_px), xanchor="left", yanchor="middle", bgcolor="rgba(0,0,0,0)",
                        borderwidth=0, font=dict(family=FONT, size=size, color=TXT), itemwidth=30)
    return key


# ---- A ----
for k, (name, vals, col) in enumerate(zip(families_a, [mf1_survival, mf2_survival, mf3_survival],
                                          ["#7b40aa", "#c0504d", "#9bbb59"])):
    lg = new_legend(54, 180 + 22 * k, 12.5)
    fig.add_trace(go.Scatter(x=days, y=vals, mode="lines", line=dict(shape="hv", color=col, width=3.2),
                             name=name, legend=lg, xaxis="x", yaxis="y", hoverinfo="skip"))

# ---- B ----
b_series = [bc1_d1, bc1_d2, bc1_d3, bc1_d4, bc1_d5, bc1_d6, bc1_d7, bc1_d8, bc1_y1, bc1_y2, bc1_y3]
b_colors = ["#3e6fb0", "#c0504d", "#9bbb59", "#8064a2", "#35a5bf", "#f79646", "#95b3d7", "#e09d9b", "#c3d69b", "#b3a2c7", "#93cddd"]
for k, (name, vals, col) in enumerate(zip(families_b, b_series, b_colors)):
    lg = new_legend(376, 50.7 + 18.1 * k, 12)
    fig.add_trace(go.Scatter(x=days, y=vals, mode="lines", line=dict(shape="hv", color=col, width=3.2),
                             name=name, legend=lg, xaxis="x2", yaxis="y2", hoverinfo="skip"))

# ---- C ----
mf2_lgs = [globals()["mf2_lg%02d" % i] for i in range(1, 51)]
mf3_lgs = [globals()["mf3_lg%02d" % i] for i in range(1, 51)]
offsets = []
acc = 0
for L in lg_lengths:
    offsets.append(acc)
    acc += L
total_len = acc

for lgs, xa, ya in [(mf2_lgs, "x3", "y3"), (mf3_lgs, "x4", "y4")]:
    for k, vals in enumerate(lgs):
        n = len(vals)
        L = lg_lengths[k]
        xs = [offsets[k] + (i + 0.5) * L / n for i in range(n)]
        fig.add_trace(go.Scatter(x=xs, y=vals, mode="markers", marker=dict(size=6, color=lg_colors[k], line=dict(width=0)),
                                 showlegend=False, xaxis=xa, yaxis=ya, hoverinfo="skip"))

# ---- D & E ----
e_rows = [684, 700, 713.5, 728]


def fine_traces(xa, ya, m2x, m2y, p2x, p2y, m3x, m3y, p3x, p3y, show):
    specs = [("MF2-M", m2x, m2y, "circle-open", "#111111"),
             ("MF2-P", p2x, p2y, "cross", "#111111"),
             ("MF3-M", m3x, m3y, "circle-open", "#e2231a"),
             ("MF3-P", p3x, p3y, "cross", "#e2231a")]
    for k, (name, x, y, sym, col) in enumerate(specs):
        if sym == "circle-open":
            mk = dict(symbol=sym, size=10, color=col, line=dict(width=1.3, color=col))
        else:
            mk = dict(symbol=sym, size=10, color=col, line=dict(width=0))
        kw = {}
        if show:
            kw["legend"] = new_legend(567, e_rows[k], 11.5)
        fig.add_trace(go.Scatter(x=x, y=y, mode="markers", marker=mk, name=name, showlegend=show,
                                 xaxis=xa, yaxis=ya, hoverinfo="skip", cliponaxis=False, **kw))


fine_traces("x5", "y5", d_mf2m_x, d_mf2m_y, d_mf2p_x, d_mf2p_y, d_mf3m_x, d_mf3m_y, d_mf3p_x, d_mf3p_y, False)
fine_traces("x6", "y6", e_mf2m_x, e_mf2m_y, e_mf2p_x, e_mf2p_y, e_mf3m_x, e_mf3m_y, e_mf3p_x, e_mf3p_y, True)

# ---------------- layout ----------------
tick_font = dict(family=FONT, size=13.5, color=TXT)


def surv_x(dom, anchor):
    return dict(domain=dom, range=[0, 20], anchor=anchor, tickmode="array", tickvals=list(range(0, 21, 2)),
                showline=True, linecolor=AX, linewidth=1, ticks="outside", ticklen=4, tickcolor=AX,
                tickfont=tick_font, showgrid=False, zeroline=False)


def surv_y(anchor):
    return dict(domain=[fy(239), fy(239 - 1.02 * 219)], range=[0, 1.02], anchor=anchor, tickmode="array",
                tickvals=[0, 0.2, 0.4, 0.6, 0.8, 1.0], tickformat=".1f", showline=True, linecolor=AX, linewidth=1,
                ticks="outside", ticklen=4, tickcolor=AX, tickfont=tick_font, showgrid=False, zeroline=False)


def scan_x(dom, anchor):
    return dict(domain=dom, range=[0, total_len], anchor=anchor, showticklabels=False, ticks="",
                showline=True, mirror=True, linecolor="#cccccc", linewidth=1, showgrid=False, zeroline=False)


def scan_y(dom, anchor):
    return dict(domain=dom, range=[0, 7], anchor=anchor, tickmode="linear", dtick=1, tick0=0,
                showline=True, mirror=True, linecolor="#cccccc", linewidth=1, ticks="outside", ticklen=4,
                tickcolor="#b0b0b0", tickfont=dict(family=FONT, size=10.5, color=TXT), showgrid=False, zeroline=False,
                minor=dict(dtick=0.5, ticks="outside", ticklen=2.5, tickcolor="#b0b0b0"))


def fine_x(dom, rng, vals, anchor):
    return dict(domain=dom, range=rng, anchor=anchor, tickmode="array", tickvals=vals,
                showline=True, linecolor=AX, linewidth=1, ticks="outside", ticklen=4, tickcolor=AX,
                tickfont=tick_font, showgrid=False, zeroline=False)


def fine_y(anchor):
    return dict(domain=[fy(851.7), fy(851.7 - 7.5 * 23.2)], range=[0, 7.5], anchor=anchor, tickmode="array",
                tickvals=list(range(0, 8)), showline=True, linecolor=AX, linewidth=1, ticks="outside", ticklen=4,
                tickcolor=AX, tickfont=tick_font, showgrid=False, zeroline=False)


layout = dict(
    width=W, height=H, autosize=False, margin=dict(l=0, r=0, t=0, b=0),
    paper_bgcolor="white", plot_bgcolor="white", font=dict(family=FONT, color=TXT),
    xaxis=surv_x([fx(52), fx(293)], "y"), yaxis=surv_y("x"),
    xaxis2=surv_x([fx(373), fx(620)], "y2"), yaxis2=surv_y("x2"),
    xaxis3=scan_x([fx(33), fx(657)], "y3"), yaxis3=scan_y([fy(461.7), fy(311.7)], "x3"),
    xaxis4=scan_x([fx(33), fx(657)], "y4"), yaxis4=scan_y([fy(628), fy(478)], "x4"),
    xaxis5=fine_x([fx(49.3), fx(49.3 + 91 * 2.74)], [0, 91], [0, 20, 40, 60, 80], "y5"), yaxis5=fine_y("x5"),
    xaxis6=fine_x([fx(376), fx(376 + 55 * 4.785)], [0, 55], [0, 20, 40], "y6"), yaxis6=fine_y("x6"),
)
layout.update(legends)
fig.update_layout(**layout)

# threshold lines
fig.add_shape(type="line", xref="x3 domain", yref="y3", x0=0, x1=1, y0=threshold, y1=threshold,
              line=dict(color="#ee8585", width=1.8), layer="below")
fig.add_shape(type="line", xref="x4 domain", yref="y4", x0=0, x1=1, y0=threshold, y1=threshold,
              line=dict(color="#ee8585", width=1.8), layer="below")
fig.add_shape(type="line", xref="x5", yref="y5", x0=0, x1=d_threshold_end, y0=threshold, y1=threshold,
              line=dict(color="#e2231a", width=2), layer="below")
fig.add_shape(type="line", xref="x6", yref="y6", x0=0, x1=e_threshold_end, y0=threshold, y1=threshold,
              line=dict(color="#e2231a", width=2), layer="below")


def ann(text, x, y, size, rot=0, bold=False, family=FONT):
    fig.add_annotation(text=("<b>%s</b>" % text) if bold else text, x=fx(x), y=fy(y), xref="paper", yref="paper",
                       xanchor="center", yanchor="middle", showarrow=False, textangle=rot,
                       font=dict(family=family, size=size, color="#000000"))


LET = "'Liberation Sans', Arial, sans-serif"
ann("A", 7, 11, 18, bold=True, family=LET)
ann("B", 329, 11, 18, bold=True, family=LET)
ann("C", 6, 310, 18, bold=True, family=LET)
ann("D", 5, 678, 18, bold=True, family=LET)
ann("E", 334, 678, 18, bold=True, family=LET)

ann("Proportion of survival", 10, 128, 12.5, rot=-90)
ann("Days post infection", 174, 278, 12.5)
ann("Proportion of survival", 330, 128, 12.5, rot=-90)
ann("Days post infection", 497, 278, 12.5)

ylog = "-Log<sub>10</sub>(<i>P</i> value)"
ann(ylog, 10, 386, 12.5, rot=-90)
ann(ylog, 10, 537, 12.5, rot=-90)
ann("Linkage groups", 355, 645, 12.5)
ann("MF2", 61, 328, 16)
ann("QTL1", 406, 328, 16)
ann("QTL2", 573, 328, 16)
ann("MF3", 61, 503, 16)
ann("QTL2", 579, 508, 16)

ann(ylog, 10, 767, 12.5, rot=-90)
ann("LG  30 position (cM)", 186, 884, 12.5)
ann(ylog, 340, 767, 12.5, rot=-90)
ann("LG  46 position (cM)", 509, 884, 12.5)

fig.write_html("out.html", config={"displayModeBar": False},
               post_script="document.body.style.margin='0';")
